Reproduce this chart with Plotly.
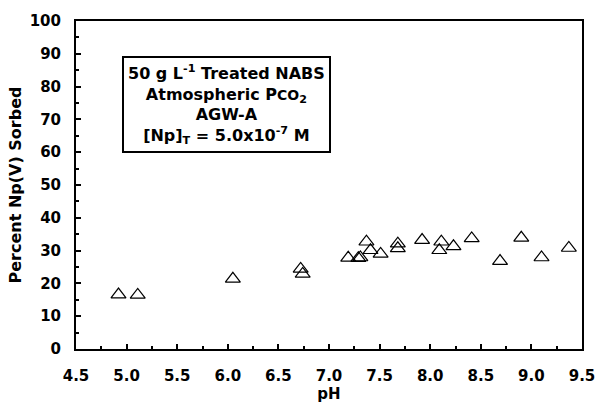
import plotly.graph_objects as go

# Data
ph = [4.92, 5.11, 6.05, 6.72, 6.74, 7.19, 7.29, 7.31, 7.37, 7.41, 7.51,
      7.68, 7.68, 7.92, 8.09, 8.11, 8.23, 8.41, 8.69, 8.90, 9.10, 9.37]
sorbed = [16.6, 16.5, 21.4, 24.4, 22.9, 27.8, 27.7, 27.9, 32.7, 30.1, 29.0,
          32.1, 30.7, 33.2, 30.1, 32.7, 31.3, 33.7, 26.8, 33.9, 27.9, 30.8]

x_ticks = [4.5, 5.0, 5.5, 6.0, 6.5, 7.0, 7.5, 8.0, 8.5, 9.0, 9.5]
x_ticklabels = ["4.5", "5.0", "5.5", "6.0", "6.5", "7.0", "7.5", "8.0", "8.5", "9.0", "9.5"]
y_ticks = [0, 10, 20, 30, 40, 50, 60, 70, 80, 90, 100]
y_ticklabels = ["0", "10", "20", "30", "40", "50", "60", "70", "80", "90", "100"]

FONT = "DejaVu Sans"

fig = go.Figure()
fig.add_trace(go.Scatter(
    x=ph, y=sorbed, mode="markers",
    marker=dict(symbol="triangle-up-open", size=13, color="black",
                line=dict(width=1.2, color="black")),
    showlegend=False, cliponaxis=False,
))

fig.update_layout(
    width=607, height=410,
    margin=dict(l=76, r=16, t=18, b=54),
    paper_bgcolor="white", plot_bgcolor="white",
    font=dict(family=FONT, color="black"),
    xaxis=dict(
        range=[4.5, 9.5], tickvals=x_ticks,
        ticktext=["<b>%s</b>" % t for t in x_ticklabels],
        showgrid=False, zeroline=False,
        showline=True, linewidth=2, linecolor="black", mirror=True,
        ticks="inside", ticklen=5, tickwidth=2, tickcolor="black",
        minor=dict(dtick=0.25, ticks="inside", ticklen=3, tickwidth=1.5, tickcolor="black"),
        tickfont=dict(family=FONT, size=15, color="black"),
        ticklabelstandoff=12,
        title=dict(text="<b>pH</b>", font=dict(family=FONT, size=15, color="black"), standoff=2),
    ),
    yaxis=dict(
        range=[0, 100], tickvals=y_ticks,
        ticktext=["<b>%s</b>" % t for t in y_ticklabels],
        showgrid=False, zeroline=False,
        showline=True, linewidth=2, linecolor="black", mirror=True,
        ticks="inside", ticklen=5, tickwidth=2, tickcolor="black",
        minor=dict(dtick=5, ticks="inside", ticklen=3, tickwidth=1.5, tickcolor="black"),
        tickfont=dict(family=FONT, size=15, color="black"),
        ticklabelstandoff=10,
        title=dict(text="<b>Percent Np(V) Sorbed</b>", font=dict(family=FONT, size=16, color="black"), standoff=4),
    ),
    annotations=[dict(
        xref="paper", yref="paper", x=0.297, y=0.746,
        xanchor="center", yanchor="middle", showarrow=False, align="center",
        text=("<b>50 g L<sup>-1</sup> Treated NABS<br>"
              "Atmospheric P<span style='font-size:14px'>CO</span><sub>2</sub><br>"
              "AGW-A<br>"
              "[Np]<sub>T</sub> = 5.0x10<sup>-7</sup> M</b>"),
        font=dict(family=FONT, size=16, color="black"),
        bordercolor="black", borderwidth=2, borderpad=4, bgcolor="white",
    )],
)

fig.write_html("out.html")
